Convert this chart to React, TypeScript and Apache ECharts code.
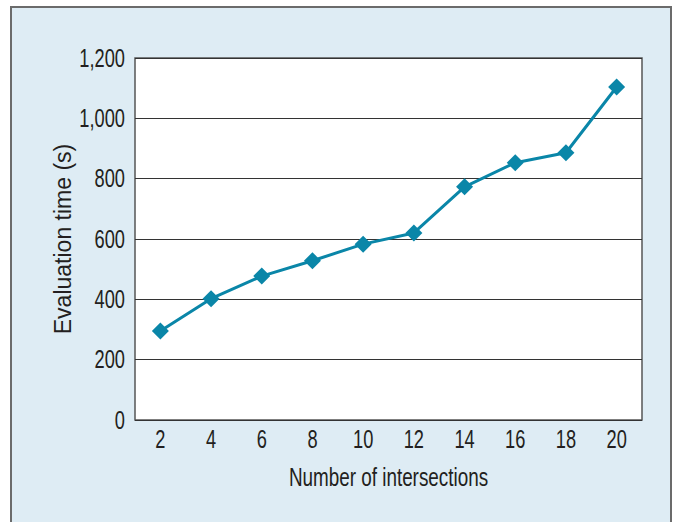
import React, { useEffect, useRef } from "react";
import * as echarts from "echarts";

const categories = ["2", "4", "6", "8", "10", "12", "14", "16", "18", "20"];
const evaluationTime = [295, 402, 477, 528, 583, 620, 773, 853, 886, 1104];
const yTicks = [0, 200, 400, 600, 800, 1000, 1200];
const yInterval = 200;
const xTitle = "Number of intersections";
const yTitle = "Evaluation time (s)";

export default function App() {
  const ref = useRef<HTMLDivElement>(null);
  useEffect(() => {
    const chart = echarts.init(ref.current!, null, { renderer: "svg" });
    const font = "'Liberation Sans', Arial, sans-serif";
    const ink = "#231f20";
    const gridLeft = 135;
    const gridTop = 58;
    const gridRight = 34;
    const gridBottom = 102;
    chart.setOption({
      animation: false,
      backgroundColor: "#ffffff",
      graphic: [
        {
          id: "panel",
          type: "rect",
          z: -10,
          silent: true,
          shape: { x: 11, y: 7, width: 660, height: 530 },
          style: { fill: "#deecf4", stroke: "#6b6b6b", lineWidth: 2 },
        },
      ],
      grid: {
        left: gridLeft,
        right: gridRight,
        top: gridTop,
        bottom: gridBottom,
        show: true,
        backgroundColor: "#ffffff",
        borderColor: "#555555",
        borderWidth: 1.5,
      },
      xAxis: {
        type: "category",
        data: categories,
        boundaryGap: true,
        axisLine: { show: false },
        axisTick: { show: false },
        axisLabel: { show: false },
      },
      yAxis: {
        type: "value",
        min: yTicks[0],
        max: yTicks[yTicks.length - 1],
        interval: yInterval,
        axisLine: { show: false },
        axisTick: { show: false },
        splitLine: { lineStyle: { color: "#333333", width: 1.2 } },
        axisLabel: { show: false },
        name: yTitle,
        nameLocation: "middle",
        nameGap: 61,
        nameTextStyle: { color: ink, fontFamily: font, fontSize: 23 },
      },
      series: [
        {
          type: "line",
          data: evaluationTime,
          symbol: "diamond",
          symbolSize: 17,
          lineStyle: { color: "#0a86a8", width: 3 },
          itemStyle: { color: "#0a86a8" },
        },
      ],
    });

    const bottomPx = chart.convertToPixel({ yAxisIndex: 0 }, 0) as number;
    const leftPx = gridLeft;
    const rightPx = 676 - gridRight;
    const texts: any[] = [];
    yTicks.forEach((v, i) => {
      const py = chart.convertToPixel({ yAxisIndex: 0 }, v) as number;
      texts.push({
        id: "yl" + i,
        type: "text",
        x: leftPx - 10,
        y: py,
        scaleX: 0.73,
        silent: true,
        style: {
          text: v.toLocaleString("en-US"),
          fontSize: 25,
          fontFamily: font,
          fill: ink,
          align: "right",
          verticalAlign: "middle",
        },
      });
    });
    categories.forEach((c, i) => {
      const px = chart.convertToPixel({ xAxisIndex: 0 }, c) as number;
      texts.push({
        id: "xl" + i,
        type: "text",
        x: px,
        y: bottomPx + 19,
        scaleX: 0.73,
        silent: true,
        style: {
          text: c,
          fontSize: 25,
          fontFamily: font,
          fill: ink,
          align: "center",
          verticalAlign: "middle",
        },
      });
    });
    texts.push({
      id: "xt",
      type: "text",
      x: (leftPx + rightPx) / 2,
      y: bottomPx + 58,
      scaleX: 0.755,
      silent: true,
      style: {
        text: xTitle,
        fontSize: 25,
        fontFamily: font,
        fill: ink,
        align: "center",
        verticalAlign: "middle",
      },
    });
    chart.setOption({ graphic: texts });

    return () => chart.dispose();
  }, []);
  return (
    <div
      ref={ref}
      style={{ position: "fixed", left: 0, top: 0, width: 676, height: 522 }}
    />
  );
}
